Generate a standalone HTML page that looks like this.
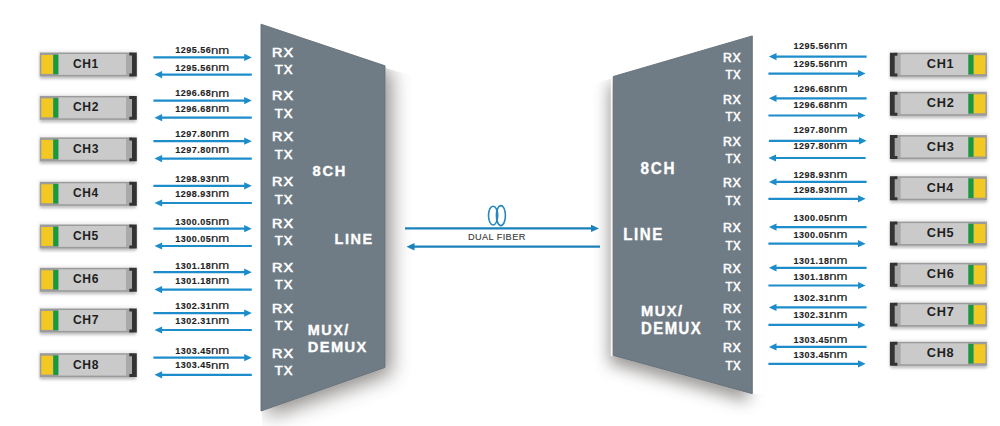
<!DOCTYPE html>
<html><head><meta charset="utf-8"><style>
html,body{margin:0;padding:0;background:#fff;width:1000px;height:426px;overflow:hidden}
svg{display:block}
text{font-family:"Liberation Sans", sans-serif}
</style></head><body>
<svg width="1000" height="426" viewBox="0 0 1000 426">
<defs>
<filter id="sh" x="-40%" y="-40%" width="180%" height="180%"><feGaussianBlur stdDeviation="10"/></filter>
<filter id="sh2" x="-40%" y="-40%" width="180%" height="180%"><feGaussianBlur stdDeviation="8"/></filter>
<filter id="sb" x="-10%" y="-50%" width="120%" height="200%"><feGaussianBlur stdDeviation="1.8"/></filter>
</defs>
<rect width="1000" height="426" fill="#fff"/>

<clipPath id="cl"><polygon points="262,24.5 385,66.2 385.5,68 460,90 460,440 262,440"/></clipPath>
<clipPath id="cr"><polygon points="752,36.5 613.3,77 612.8,78 540,99 540,440 780,440 780,394 752,394"/></clipPath>
<g clip-path="url(#cl)"><polygon points="261,24.2 385,65.8 385,367.5 261,411" transform="translate(6 6)" fill="#4a4540" opacity="0.62" filter="url(#sh)"/></g>
<g clip-path="url(#cr)"><polygon points="613.3,76.5 752.3,35.9 752.3,393.7 613.3,355.4" transform="translate(-4 8)" fill="#4a4540" opacity="0.55" filter="url(#sh2)"/></g>
<line x1="611.6" y1="78" x2="611.6" y2="356" stroke="#fff" stroke-width="1.6" opacity="0.9"/>
<polygon points="261,24.2 385,65.8 385,367.5 261,411" fill="none" stroke="#fff" stroke-width="1.2" opacity="0.35"/>
<polygon points="613.3,76.5 752.3,35.9 752.3,393.7 613.3,355.4" fill="none" stroke="#fff" stroke-width="1.2" opacity="0.35"/>
<polygon points="261,24.2 385,65.8 385,367.5 261,411" fill="#707c85" stroke="#636e77" stroke-width="0.9"/>
<polygon points="613.3,76.5 752.3,35.9 752.3,393.7 613.3,355.4" fill="#707c85" stroke="#636e77" stroke-width="0.9"/>
<text transform="translate(271.92 56.75) scale(1.166 1)" font-size="12.35" font-weight="normal" fill="#fff" letter-spacing="1.00" stroke="#fff" stroke-width="0.6">RX</text>
<text transform="translate(274.71 73.95) scale(1.058 1)" font-size="12.35" font-weight="normal" fill="#fff" letter-spacing="1.00" stroke="#fff" stroke-width="0.6">TX</text>
<text transform="translate(723.09 61.60) scale(1.030 1)" font-size="11.99" font-weight="normal" fill="#fff" letter-spacing="0.60" stroke="#fff" stroke-width="0.55">RX</text>
<text transform="translate(725.44 79.00) scale(0.948 1)" font-size="11.99" font-weight="normal" fill="#fff" letter-spacing="0.60" stroke="#fff" stroke-width="0.55">TX</text>
<text transform="translate(271.92 100.35) scale(1.166 1)" font-size="12.35" font-weight="normal" fill="#fff" letter-spacing="1.00" stroke="#fff" stroke-width="0.6">RX</text>
<text transform="translate(274.71 118.25) scale(1.058 1)" font-size="12.35" font-weight="normal" fill="#fff" letter-spacing="1.00" stroke="#fff" stroke-width="0.6">TX</text>
<text transform="translate(723.09 103.70) scale(1.030 1)" font-size="11.99" font-weight="normal" fill="#fff" letter-spacing="0.60" stroke="#fff" stroke-width="0.55">RX</text>
<text transform="translate(725.44 121.20) scale(0.948 1)" font-size="11.99" font-weight="normal" fill="#fff" letter-spacing="0.60" stroke="#fff" stroke-width="0.55">TX</text>
<text transform="translate(271.92 141.45) scale(1.166 1)" font-size="12.35" font-weight="normal" fill="#fff" letter-spacing="1.00" stroke="#fff" stroke-width="0.6">RX</text>
<text transform="translate(274.71 159.45) scale(1.058 1)" font-size="12.35" font-weight="normal" fill="#fff" letter-spacing="1.00" stroke="#fff" stroke-width="0.6">TX</text>
<text transform="translate(723.09 145.90) scale(1.030 1)" font-size="11.99" font-weight="normal" fill="#fff" letter-spacing="0.60" stroke="#fff" stroke-width="0.55">RX</text>
<text transform="translate(725.44 163.40) scale(0.948 1)" font-size="11.99" font-weight="normal" fill="#fff" letter-spacing="0.60" stroke="#fff" stroke-width="0.55">TX</text>
<text transform="translate(271.92 186.45) scale(1.166 1)" font-size="12.35" font-weight="normal" fill="#fff" letter-spacing="1.00" stroke="#fff" stroke-width="0.6">RX</text>
<text transform="translate(274.71 204.35) scale(1.058 1)" font-size="12.35" font-weight="normal" fill="#fff" letter-spacing="1.00" stroke="#fff" stroke-width="0.6">TX</text>
<text transform="translate(723.09 187.20) scale(1.030 1)" font-size="11.99" font-weight="normal" fill="#fff" letter-spacing="0.60" stroke="#fff" stroke-width="0.55">RX</text>
<text transform="translate(725.44 204.70) scale(0.948 1)" font-size="11.99" font-weight="normal" fill="#fff" letter-spacing="0.60" stroke="#fff" stroke-width="0.55">TX</text>
<text transform="translate(271.92 227.55) scale(1.166 1)" font-size="12.35" font-weight="normal" fill="#fff" letter-spacing="1.00" stroke="#fff" stroke-width="0.6">RX</text>
<text transform="translate(274.71 245.45) scale(1.058 1)" font-size="12.35" font-weight="normal" fill="#fff" letter-spacing="1.00" stroke="#fff" stroke-width="0.6">TX</text>
<text transform="translate(723.09 231.50) scale(1.030 1)" font-size="11.99" font-weight="normal" fill="#fff" letter-spacing="0.60" stroke="#fff" stroke-width="0.55">RX</text>
<text transform="translate(725.44 249.50) scale(0.948 1)" font-size="11.99" font-weight="normal" fill="#fff" letter-spacing="0.60" stroke="#fff" stroke-width="0.55">TX</text>
<text transform="translate(271.92 271.85) scale(1.166 1)" font-size="12.35" font-weight="normal" fill="#fff" letter-spacing="1.00" stroke="#fff" stroke-width="0.6">RX</text>
<text transform="translate(274.71 289.35) scale(1.058 1)" font-size="12.35" font-weight="normal" fill="#fff" letter-spacing="1.00" stroke="#fff" stroke-width="0.6">TX</text>
<text transform="translate(723.09 273.30) scale(1.030 1)" font-size="11.99" font-weight="normal" fill="#fff" letter-spacing="0.60" stroke="#fff" stroke-width="0.55">RX</text>
<text transform="translate(725.44 291.20) scale(0.948 1)" font-size="11.99" font-weight="normal" fill="#fff" letter-spacing="0.60" stroke="#fff" stroke-width="0.55">TX</text>
<text transform="translate(271.92 312.55) scale(1.166 1)" font-size="12.35" font-weight="normal" fill="#fff" letter-spacing="1.00" stroke="#fff" stroke-width="0.6">RX</text>
<text transform="translate(274.71 330.45) scale(1.058 1)" font-size="12.35" font-weight="normal" fill="#fff" letter-spacing="1.00" stroke="#fff" stroke-width="0.6">TX</text>
<text transform="translate(723.09 312.90) scale(1.030 1)" font-size="11.99" font-weight="normal" fill="#fff" letter-spacing="0.60" stroke="#fff" stroke-width="0.55">RX</text>
<text transform="translate(725.44 330.20) scale(0.948 1)" font-size="11.99" font-weight="normal" fill="#fff" letter-spacing="0.60" stroke="#fff" stroke-width="0.55">TX</text>
<text transform="translate(271.92 357.75) scale(1.166 1)" font-size="12.35" font-weight="normal" fill="#fff" letter-spacing="1.00" stroke="#fff" stroke-width="0.6">RX</text>
<text transform="translate(274.71 375.45) scale(1.058 1)" font-size="12.35" font-weight="normal" fill="#fff" letter-spacing="1.00" stroke="#fff" stroke-width="0.6">TX</text>
<text transform="translate(723.09 352.20) scale(1.030 1)" font-size="11.99" font-weight="normal" fill="#fff" letter-spacing="0.60" stroke="#fff" stroke-width="0.55">RX</text>
<text transform="translate(725.44 369.70) scale(0.948 1)" font-size="11.99" font-weight="normal" fill="#fff" letter-spacing="0.60" stroke="#fff" stroke-width="0.55">TX</text>
<text transform="translate(312.43 175.56) scale(0.999 1)" font-size="14.69" font-weight="bold" fill="#fff" letter-spacing="1.80" stroke="#fff" stroke-width="0.35">8CH</text>
<text transform="translate(334.43 243.50) scale(0.941 1)" font-size="15.41" font-weight="bold" fill="#fff" letter-spacing="1.70" stroke="#fff" stroke-width="0.35">LINE</text>
<text transform="translate(307.84 334.90) scale(0.967 1)" font-size="14.91" font-weight="bold" fill="#fff" letter-spacing="1.50" stroke="#fff" stroke-width="0.35">MUX/</text>
<text transform="translate(307.82 351.85) scale(0.955 1)" font-size="15.33" font-weight="bold" fill="#fff" letter-spacing="1.50" stroke="#fff" stroke-width="0.35">DEMUX</text>
<text transform="translate(640.62 173.64) scale(0.954 1)" font-size="15.96" font-weight="bold" fill="#fff" letter-spacing="1.80" stroke="#fff" stroke-width="0.35">8CH</text>
<text transform="translate(623.19 240.00) scale(0.920 1)" font-size="16.42" font-weight="bold" fill="#fff" letter-spacing="1.70" stroke="#fff" stroke-width="0.35">LINE</text>
<text transform="translate(641.12 316.30) scale(0.967 1)" font-size="15.18" font-weight="bold" fill="#fff" letter-spacing="1.50" stroke="#fff" stroke-width="0.35">MUX/</text>
<text transform="translate(641.10 334.25) scale(0.955 1)" font-size="15.62" font-weight="bold" fill="#fff" letter-spacing="1.50" stroke="#fff" stroke-width="0.35">DEMUX</text>
<rect x="38.5" y="50.5" width="99" height="27.9" fill="#000" opacity="0.07" filter="url(#sb)"/><rect x="40" y="55.0" width="96" height="23.9" fill="#000" opacity="0.2" filter="url(#sb)"/><rect x="39.8" y="52.5" width="92.4" height="23.9" fill="#9b9b9b"/><rect x="58.4" y="54.0" width="68" height="20.9" fill="#cacaca"/><rect x="126.3" y="53.9" width="5.8" height="21.099999999999998" fill="#a9a9a9"/><rect x="41.3" y="55.0" width="11.7" height="18.9" fill="#f4c823"/><rect x="53.3" y="54.7" width="5.0" height="19.5" fill="#179a3c"/><path d="M129.3 52.5 H136.8 V76.4 H129.3 V73.4 H132 V55.5 H129.3 Z" fill="#333"/>
<g transform="translate(1026.7 0) scale(-1 1)"><rect x="38.5" y="50.7" width="99" height="27.9" fill="#000" opacity="0.07" filter="url(#sb)"/><rect x="40" y="55.2" width="96" height="23.9" fill="#000" opacity="0.2" filter="url(#sb)"/><rect x="39.8" y="52.7" width="92.4" height="23.9" fill="#9b9b9b"/><rect x="58.4" y="54.2" width="68" height="20.9" fill="#cacaca"/><rect x="126.3" y="54.1" width="5.8" height="21.099999999999998" fill="#a9a9a9"/><rect x="41.3" y="55.2" width="11.7" height="18.9" fill="#f4c823"/><rect x="53.3" y="54.900000000000006" width="5.0" height="19.5" fill="#179a3c"/><path d="M129.3 52.7 H136.8 V76.6 H129.3 V73.6 H132 V55.7 H129.3 Z" fill="#333"/></g>
<text transform="translate(72.91 67.87) scale(0.928 1)" font-size="12.99" font-weight="bold" fill="#1e1e1e" letter-spacing="0.70">CH1</text>
<text transform="translate(926.78 68.48) scale(1.046 1)" font-size="12.15" font-weight="bold" fill="#1e1e1e" letter-spacing="0.70">CH1</text>
<line x1="153.4" y1="57.4" x2="245.20000000000002" y2="57.4" stroke="#1c8ccb" stroke-width="2.2"/><polygon points="251.8,57.4 244.20000000000002,53.8 244.20000000000002,61.0" fill="#1c8ccb"/>
<line x1="161.1" y1="74.6" x2="251.8" y2="74.6" stroke="#1c8ccb" stroke-width="2.2"/><polygon points="154.5,74.6 162.1,71.0 162.1,78.19999999999999" fill="#1c8ccb"/>
<text transform="translate(175.33 53.41) scale(0.981 1)" font-size="9.18" font-weight="bold" fill="#222" letter-spacing="0.50" stroke="#222" stroke-width="0.12">1295.56</text><text transform="translate(211.02 53.50) scale(1.184 1)" font-size="11.15" font-weight="normal" fill="#222" stroke="#222" stroke-width="0.15">nm</text>
<text transform="translate(175.33 71.11) scale(0.981 1)" font-size="9.18" font-weight="bold" fill="#222" letter-spacing="0.50" stroke="#222" stroke-width="0.12">1295.56</text><text transform="translate(211.02 71.20) scale(1.184 1)" font-size="11.15" font-weight="normal" fill="#222" stroke="#222" stroke-width="0.15">nm</text>
<line x1="775.5" y1="56.6" x2="866.6" y2="56.6" stroke="#1c8ccb" stroke-width="2.2"/><polygon points="768.9,56.6 776.5,53.0 776.5,60.2" fill="#1c8ccb"/>
<line x1="768.4" y1="73.6" x2="859.0" y2="73.6" stroke="#1c8ccb" stroke-width="2.2"/><polygon points="865.6,73.6 858.0,70.0 858.0,77.19999999999999" fill="#1c8ccb"/>
<text transform="translate(793.53 49.01) scale(0.981 1)" font-size="9.18" font-weight="bold" fill="#222" letter-spacing="0.50" stroke="#222" stroke-width="0.12">1295.56</text><text transform="translate(829.22 49.10) scale(1.184 1)" font-size="11.15" font-weight="normal" fill="#222" stroke="#222" stroke-width="0.15">nm</text>
<text transform="translate(793.53 66.71) scale(0.981 1)" font-size="9.18" font-weight="bold" fill="#222" letter-spacing="0.50" stroke="#222" stroke-width="0.12">1295.56</text><text transform="translate(829.22 66.80) scale(1.184 1)" font-size="11.15" font-weight="normal" fill="#222" stroke="#222" stroke-width="0.15">nm</text>
<rect x="38.5" y="93.9" width="99" height="27.9" fill="#000" opacity="0.07" filter="url(#sb)"/><rect x="40" y="98.4" width="96" height="23.9" fill="#000" opacity="0.2" filter="url(#sb)"/><rect x="39.8" y="95.9" width="92.4" height="23.9" fill="#9b9b9b"/><rect x="58.4" y="97.4" width="68" height="20.9" fill="#cacaca"/><rect x="126.3" y="97.30000000000001" width="5.8" height="21.099999999999998" fill="#a9a9a9"/><rect x="41.3" y="98.4" width="11.7" height="18.9" fill="#f4c823"/><rect x="53.3" y="98.10000000000001" width="5.0" height="19.5" fill="#179a3c"/><path d="M129.3 95.9 H136.8 V119.80000000000001 H129.3 V116.80000000000001 H132 V98.9 H129.3 Z" fill="#333"/>
<g transform="translate(1026.7 0) scale(-1 1)"><rect x="38.5" y="89.8" width="99" height="27.9" fill="#000" opacity="0.07" filter="url(#sb)"/><rect x="40" y="94.3" width="96" height="23.9" fill="#000" opacity="0.2" filter="url(#sb)"/><rect x="39.8" y="91.8" width="92.4" height="23.9" fill="#9b9b9b"/><rect x="58.4" y="93.3" width="68" height="20.9" fill="#cacaca"/><rect x="126.3" y="93.2" width="5.8" height="21.099999999999998" fill="#a9a9a9"/><rect x="41.3" y="94.3" width="11.7" height="18.9" fill="#f4c823"/><rect x="53.3" y="94.0" width="5.0" height="19.5" fill="#179a3c"/><path d="M129.3 91.8 H136.8 V115.69999999999999 H129.3 V112.69999999999999 H132 V94.8 H129.3 Z" fill="#333"/></g>
<text transform="translate(72.90 111.27) scale(0.934 1)" font-size="12.99" font-weight="bold" fill="#1e1e1e" letter-spacing="0.70">CH2</text>
<text transform="translate(926.78 107.28) scale(1.052 1)" font-size="12.15" font-weight="bold" fill="#1e1e1e" letter-spacing="0.70">CH2</text>
<line x1="153.4" y1="100.6" x2="245.20000000000002" y2="100.6" stroke="#1c8ccb" stroke-width="2.2"/><polygon points="251.8,100.6 244.20000000000002,97.0 244.20000000000002,104.19999999999999" fill="#1c8ccb"/>
<line x1="161.1" y1="117.7" x2="251.8" y2="117.7" stroke="#1c8ccb" stroke-width="2.2"/><polygon points="154.5,117.7 162.1,114.10000000000001 162.1,121.3" fill="#1c8ccb"/>
<text transform="translate(175.33 96.41) scale(0.979 1)" font-size="9.18" font-weight="bold" fill="#222" letter-spacing="0.50" stroke="#222" stroke-width="0.12">1296.68</text><text transform="translate(211.02 96.50) scale(1.184 1)" font-size="11.15" font-weight="normal" fill="#222" stroke="#222" stroke-width="0.15">nm</text>
<text transform="translate(175.33 111.81) scale(0.979 1)" font-size="9.18" font-weight="bold" fill="#222" letter-spacing="0.50" stroke="#222" stroke-width="0.12">1296.68</text><text transform="translate(211.02 111.90) scale(1.184 1)" font-size="11.15" font-weight="normal" fill="#222" stroke="#222" stroke-width="0.15">nm</text>
<line x1="775.5" y1="98.3" x2="866.6" y2="98.3" stroke="#1c8ccb" stroke-width="2.2"/><polygon points="768.9,98.3 776.5,94.7 776.5,101.89999999999999" fill="#1c8ccb"/>
<line x1="768.4" y1="115.5" x2="859.0" y2="115.5" stroke="#1c8ccb" stroke-width="2.2"/><polygon points="865.6,115.5 858.0,111.9 858.0,119.1" fill="#1c8ccb"/>
<text transform="translate(793.53 92.31) scale(0.979 1)" font-size="9.18" font-weight="bold" fill="#222" letter-spacing="0.50" stroke="#222" stroke-width="0.12">1296.68</text><text transform="translate(829.22 92.40) scale(1.184 1)" font-size="11.15" font-weight="normal" fill="#222" stroke="#222" stroke-width="0.15">nm</text>
<text transform="translate(793.53 107.61) scale(0.979 1)" font-size="9.18" font-weight="bold" fill="#222" letter-spacing="0.50" stroke="#222" stroke-width="0.12">1296.68</text><text transform="translate(829.22 107.70) scale(1.184 1)" font-size="11.15" font-weight="normal" fill="#222" stroke="#222" stroke-width="0.15">nm</text>
<rect x="38.5" y="135.4" width="99" height="27.9" fill="#000" opacity="0.07" filter="url(#sb)"/><rect x="40" y="139.9" width="96" height="23.9" fill="#000" opacity="0.2" filter="url(#sb)"/><rect x="39.8" y="137.4" width="92.4" height="23.9" fill="#9b9b9b"/><rect x="58.4" y="138.9" width="68" height="20.9" fill="#cacaca"/><rect x="126.3" y="138.8" width="5.8" height="21.099999999999998" fill="#a9a9a9"/><rect x="41.3" y="139.9" width="11.7" height="18.9" fill="#f4c823"/><rect x="53.3" y="139.6" width="5.0" height="19.5" fill="#179a3c"/><path d="M129.3 137.4 H136.8 V161.3 H129.3 V158.3 H132 V140.4 H129.3 Z" fill="#333"/>
<g transform="translate(1026.7 0) scale(-1 1)"><rect x="38.5" y="133.1" width="99" height="27.9" fill="#000" opacity="0.07" filter="url(#sb)"/><rect x="40" y="137.6" width="96" height="23.9" fill="#000" opacity="0.2" filter="url(#sb)"/><rect x="39.8" y="135.1" width="92.4" height="23.9" fill="#9b9b9b"/><rect x="58.4" y="136.6" width="68" height="20.9" fill="#cacaca"/><rect x="126.3" y="136.5" width="5.8" height="21.099999999999998" fill="#a9a9a9"/><rect x="41.3" y="137.6" width="11.7" height="18.9" fill="#f4c823"/><rect x="53.3" y="137.29999999999998" width="5.0" height="19.5" fill="#179a3c"/><path d="M129.3 135.1 H136.8 V159.0 H129.3 V156.0 H132 V138.1 H129.3 Z" fill="#333"/></g>
<text transform="translate(72.90 152.75) scale(0.934 1)" font-size="12.97" font-weight="bold" fill="#1e1e1e" letter-spacing="0.70">CH3</text>
<text transform="translate(926.78 150.66) scale(1.052 1)" font-size="12.12" font-weight="bold" fill="#1e1e1e" letter-spacing="0.70">CH3</text>
<line x1="153.4" y1="141.2" x2="245.20000000000002" y2="141.2" stroke="#1c8ccb" stroke-width="2.2"/><polygon points="251.8,141.2 244.20000000000002,137.6 244.20000000000002,144.79999999999998" fill="#1c8ccb"/>
<line x1="161.1" y1="158.6" x2="251.8" y2="158.6" stroke="#1c8ccb" stroke-width="2.2"/><polygon points="154.5,158.6 162.1,155.0 162.1,162.2" fill="#1c8ccb"/>
<text transform="translate(175.33 137.11) scale(0.982 1)" font-size="9.18" font-weight="bold" fill="#222" letter-spacing="0.50" stroke="#222" stroke-width="0.12">1297.80</text><text transform="translate(211.02 137.20) scale(1.184 1)" font-size="11.15" font-weight="normal" fill="#222" stroke="#222" stroke-width="0.15">nm</text>
<text transform="translate(175.33 152.81) scale(0.982 1)" font-size="9.18" font-weight="bold" fill="#222" letter-spacing="0.50" stroke="#222" stroke-width="0.12">1297.80</text><text transform="translate(211.02 152.90) scale(1.184 1)" font-size="11.15" font-weight="normal" fill="#222" stroke="#222" stroke-width="0.15">nm</text>
<line x1="768.9" y1="140.8" x2="860.0" y2="140.8" stroke="#1c8ccb" stroke-width="2.2"/><polygon points="866.6,140.8 859.0,137.20000000000002 859.0,144.4" fill="#1c8ccb"/>
<line x1="775.0" y1="158.0" x2="865.6" y2="158.0" stroke="#1c8ccb" stroke-width="2.2"/><polygon points="768.4,158.0 776.0,154.4 776.0,161.6" fill="#1c8ccb"/>
<text transform="translate(793.53 133.31) scale(0.982 1)" font-size="9.18" font-weight="bold" fill="#222" letter-spacing="0.50" stroke="#222" stroke-width="0.12">1297.80</text><text transform="translate(829.22 133.40) scale(1.184 1)" font-size="11.15" font-weight="normal" fill="#222" stroke="#222" stroke-width="0.15">nm</text>
<text transform="translate(793.53 148.81) scale(0.982 1)" font-size="9.18" font-weight="bold" fill="#222" letter-spacing="0.50" stroke="#222" stroke-width="0.12">1297.80</text><text transform="translate(829.22 148.90) scale(1.184 1)" font-size="11.15" font-weight="normal" fill="#222" stroke="#222" stroke-width="0.15">nm</text>
<rect x="38.5" y="179.8" width="99" height="27.9" fill="#000" opacity="0.07" filter="url(#sb)"/><rect x="40" y="184.3" width="96" height="23.9" fill="#000" opacity="0.2" filter="url(#sb)"/><rect x="39.8" y="181.8" width="92.4" height="23.9" fill="#9b9b9b"/><rect x="58.4" y="183.3" width="68" height="20.9" fill="#cacaca"/><rect x="126.3" y="183.20000000000002" width="5.8" height="21.099999999999998" fill="#a9a9a9"/><rect x="41.3" y="184.3" width="11.7" height="18.9" fill="#f4c823"/><rect x="53.3" y="184.0" width="5.0" height="19.5" fill="#179a3c"/><path d="M129.3 181.8 H136.8 V205.70000000000002 H129.3 V202.70000000000002 H132 V184.8 H129.3 Z" fill="#333"/>
<g transform="translate(1026.7 0) scale(-1 1)"><rect x="38.5" y="174.3" width="99" height="27.9" fill="#000" opacity="0.07" filter="url(#sb)"/><rect x="40" y="178.8" width="96" height="23.9" fill="#000" opacity="0.2" filter="url(#sb)"/><rect x="39.8" y="176.3" width="92.4" height="23.9" fill="#9b9b9b"/><rect x="58.4" y="177.8" width="68" height="20.9" fill="#cacaca"/><rect x="126.3" y="177.70000000000002" width="5.8" height="21.099999999999998" fill="#a9a9a9"/><rect x="41.3" y="178.8" width="11.7" height="18.9" fill="#f4c823"/><rect x="53.3" y="178.5" width="5.0" height="19.5" fill="#179a3c"/><path d="M129.3 176.3 H136.8 V200.20000000000002 H129.3 V197.20000000000002 H132 V179.3 H129.3 Z" fill="#333"/></g>
<text transform="translate(72.91 197.17) scale(0.918 1)" font-size="12.99" font-weight="bold" fill="#1e1e1e" letter-spacing="0.70">CH4</text>
<text transform="translate(926.78 192.18) scale(1.034 1)" font-size="12.15" font-weight="bold" fill="#1e1e1e" letter-spacing="0.70">CH4</text>
<line x1="153.4" y1="185.8" x2="245.20000000000002" y2="185.8" stroke="#1c8ccb" stroke-width="2.2"/><polygon points="251.8,185.8 244.20000000000002,182.20000000000002 244.20000000000002,189.4" fill="#1c8ccb"/>
<line x1="161.1" y1="203.0" x2="251.8" y2="203.0" stroke="#1c8ccb" stroke-width="2.2"/><polygon points="154.5,203.0 162.1,199.4 162.1,206.6" fill="#1c8ccb"/>
<text transform="translate(175.33 182.00) scale(0.983 1)" font-size="9.16" font-weight="bold" fill="#222" letter-spacing="0.50" stroke="#222" stroke-width="0.12">1298.93</text><text transform="translate(211.02 182.10) scale(1.184 1)" font-size="11.15" font-weight="normal" fill="#222" stroke="#222" stroke-width="0.15">nm</text>
<text transform="translate(175.33 197.00) scale(0.983 1)" font-size="9.16" font-weight="bold" fill="#222" letter-spacing="0.50" stroke="#222" stroke-width="0.12">1298.93</text><text transform="translate(211.02 197.10) scale(1.184 1)" font-size="11.15" font-weight="normal" fill="#222" stroke="#222" stroke-width="0.15">nm</text>
<line x1="775.5" y1="181.9" x2="866.6" y2="181.9" stroke="#1c8ccb" stroke-width="2.2"/><polygon points="768.9,181.9 776.5,178.3 776.5,185.5" fill="#1c8ccb"/>
<line x1="768.4" y1="198.8" x2="859.0" y2="198.8" stroke="#1c8ccb" stroke-width="2.2"/><polygon points="865.6,198.8 858.0,195.20000000000002 858.0,202.4" fill="#1c8ccb"/>
<text transform="translate(793.53 177.60) scale(0.983 1)" font-size="9.16" font-weight="bold" fill="#222" letter-spacing="0.50" stroke="#222" stroke-width="0.12">1298.93</text><text transform="translate(829.22 177.70) scale(1.184 1)" font-size="11.15" font-weight="normal" fill="#222" stroke="#222" stroke-width="0.15">nm</text>
<text transform="translate(793.53 193.20) scale(0.983 1)" font-size="9.16" font-weight="bold" fill="#222" letter-spacing="0.50" stroke="#222" stroke-width="0.12">1298.93</text><text transform="translate(829.22 193.30) scale(1.184 1)" font-size="11.15" font-weight="normal" fill="#222" stroke="#222" stroke-width="0.15">nm</text>
<rect x="38.5" y="222.5" width="99" height="27.9" fill="#000" opacity="0.07" filter="url(#sb)"/><rect x="40" y="227.0" width="96" height="23.9" fill="#000" opacity="0.2" filter="url(#sb)"/><rect x="39.8" y="224.5" width="92.4" height="23.9" fill="#9b9b9b"/><rect x="58.4" y="226.0" width="68" height="20.9" fill="#cacaca"/><rect x="126.3" y="225.9" width="5.8" height="21.099999999999998" fill="#a9a9a9"/><rect x="41.3" y="227.0" width="11.7" height="18.9" fill="#f4c823"/><rect x="53.3" y="226.7" width="5.0" height="19.5" fill="#179a3c"/><path d="M129.3 224.5 H136.8 V248.4 H129.3 V245.4 H132 V227.5 H129.3 Z" fill="#333"/>
<g transform="translate(1026.7 0) scale(-1 1)"><rect x="38.5" y="219.6" width="99" height="27.9" fill="#000" opacity="0.07" filter="url(#sb)"/><rect x="40" y="224.1" width="96" height="23.9" fill="#000" opacity="0.2" filter="url(#sb)"/><rect x="39.8" y="221.6" width="92.4" height="23.9" fill="#9b9b9b"/><rect x="58.4" y="223.1" width="68" height="20.9" fill="#cacaca"/><rect x="126.3" y="223.0" width="5.8" height="21.099999999999998" fill="#a9a9a9"/><rect x="41.3" y="224.1" width="11.7" height="18.9" fill="#f4c823"/><rect x="53.3" y="223.79999999999998" width="5.0" height="19.5" fill="#179a3c"/><path d="M129.3 221.6 H136.8 V245.5 H129.3 V242.5 H132 V224.6 H129.3 Z" fill="#333"/></g>
<text transform="translate(72.91 239.87) scale(0.928 1)" font-size="12.99" font-weight="bold" fill="#1e1e1e" letter-spacing="0.70">CH5</text>
<text transform="translate(926.78 237.08) scale(1.046 1)" font-size="12.15" font-weight="bold" fill="#1e1e1e" letter-spacing="0.70">CH5</text>
<line x1="153.4" y1="228.7" x2="245.20000000000002" y2="228.7" stroke="#1c8ccb" stroke-width="2.2"/><polygon points="251.8,228.7 244.20000000000002,225.1 244.20000000000002,232.29999999999998" fill="#1c8ccb"/>
<line x1="161.1" y1="246.0" x2="251.8" y2="246.0" stroke="#1c8ccb" stroke-width="2.2"/><polygon points="154.5,246.0 162.1,242.4 162.1,249.6" fill="#1c8ccb"/>
<text transform="translate(175.33 225.00) scale(0.981 1)" font-size="9.16" font-weight="bold" fill="#222" letter-spacing="0.50" stroke="#222" stroke-width="0.12">1300.05</text><text transform="translate(211.02 225.10) scale(1.184 1)" font-size="11.15" font-weight="normal" fill="#222" stroke="#222" stroke-width="0.15">nm</text>
<text transform="translate(175.33 242.30) scale(0.981 1)" font-size="9.16" font-weight="bold" fill="#222" letter-spacing="0.50" stroke="#222" stroke-width="0.12">1300.05</text><text transform="translate(211.02 242.40) scale(1.184 1)" font-size="11.15" font-weight="normal" fill="#222" stroke="#222" stroke-width="0.15">nm</text>
<line x1="775.5" y1="227.1" x2="866.6" y2="227.1" stroke="#1c8ccb" stroke-width="2.2"/><polygon points="768.9,227.1 776.5,223.5 776.5,230.7" fill="#1c8ccb"/>
<line x1="768.4" y1="243.7" x2="859.0" y2="243.7" stroke="#1c8ccb" stroke-width="2.2"/><polygon points="865.6,243.7 858.0,240.1 858.0,247.29999999999998" fill="#1c8ccb"/>
<text transform="translate(793.53 220.70) scale(0.981 1)" font-size="9.16" font-weight="bold" fill="#222" letter-spacing="0.50" stroke="#222" stroke-width="0.12">1300.05</text><text transform="translate(829.22 220.80) scale(1.184 1)" font-size="11.15" font-weight="normal" fill="#222" stroke="#222" stroke-width="0.15">nm</text>
<text transform="translate(793.53 237.50) scale(0.981 1)" font-size="9.16" font-weight="bold" fill="#222" letter-spacing="0.50" stroke="#222" stroke-width="0.12">1300.05</text><text transform="translate(829.22 237.60) scale(1.184 1)" font-size="11.15" font-weight="normal" fill="#222" stroke="#222" stroke-width="0.15">nm</text>
<rect x="38.5" y="265.8" width="99" height="27.9" fill="#000" opacity="0.07" filter="url(#sb)"/><rect x="40" y="270.3" width="96" height="23.9" fill="#000" opacity="0.2" filter="url(#sb)"/><rect x="39.8" y="267.8" width="92.4" height="23.9" fill="#9b9b9b"/><rect x="58.4" y="269.3" width="68" height="20.9" fill="#cacaca"/><rect x="126.3" y="269.2" width="5.8" height="21.099999999999998" fill="#a9a9a9"/><rect x="41.3" y="270.3" width="11.7" height="18.9" fill="#f4c823"/><rect x="53.3" y="270.0" width="5.0" height="19.5" fill="#179a3c"/><path d="M129.3 267.8 H136.8 V291.7 H129.3 V288.7 H132 V270.8 H129.3 Z" fill="#333"/>
<g transform="translate(1026.7 0) scale(-1 1)"><rect x="38.5" y="260.8" width="99" height="27.9" fill="#000" opacity="0.07" filter="url(#sb)"/><rect x="40" y="265.3" width="96" height="23.9" fill="#000" opacity="0.2" filter="url(#sb)"/><rect x="39.8" y="262.8" width="92.4" height="23.9" fill="#9b9b9b"/><rect x="58.4" y="264.3" width="68" height="20.9" fill="#cacaca"/><rect x="126.3" y="264.2" width="5.8" height="21.099999999999998" fill="#a9a9a9"/><rect x="41.3" y="265.3" width="11.7" height="18.9" fill="#f4c823"/><rect x="53.3" y="265.0" width="5.0" height="19.5" fill="#179a3c"/><path d="M129.3 262.8 H136.8 V286.7 H129.3 V283.7 H132 V265.8 H129.3 Z" fill="#333"/></g>
<text transform="translate(72.90 283.17) scale(0.932 1)" font-size="12.99" font-weight="bold" fill="#1e1e1e" letter-spacing="0.70">CH6</text>
<text transform="translate(926.78 278.38) scale(1.050 1)" font-size="12.15" font-weight="bold" fill="#1e1e1e" letter-spacing="0.70">CH6</text>
<line x1="153.4" y1="272.2" x2="245.20000000000002" y2="272.2" stroke="#1c8ccb" stroke-width="2.2"/><polygon points="251.8,272.2 244.20000000000002,268.59999999999997 244.20000000000002,275.8" fill="#1c8ccb"/>
<line x1="161.1" y1="289.6" x2="251.8" y2="289.6" stroke="#1c8ccb" stroke-width="2.2"/><polygon points="154.5,289.6 162.1,286.0 162.1,293.20000000000005" fill="#1c8ccb"/>
<text transform="translate(175.33 268.50) scale(0.981 1)" font-size="9.16" font-weight="bold" fill="#222" letter-spacing="0.50" stroke="#222" stroke-width="0.12">1301.18</text><text transform="translate(211.02 268.60) scale(1.184 1)" font-size="11.15" font-weight="normal" fill="#222" stroke="#222" stroke-width="0.15">nm</text>
<text transform="translate(175.33 283.50) scale(0.981 1)" font-size="9.16" font-weight="bold" fill="#222" letter-spacing="0.50" stroke="#222" stroke-width="0.12">1301.18</text><text transform="translate(211.02 283.60) scale(1.184 1)" font-size="11.15" font-weight="normal" fill="#222" stroke="#222" stroke-width="0.15">nm</text>
<line x1="775.5" y1="267.8" x2="866.6" y2="267.8" stroke="#1c8ccb" stroke-width="2.2"/><polygon points="768.9,267.8 776.5,264.2 776.5,271.40000000000003" fill="#1c8ccb"/>
<line x1="768.4" y1="285.5" x2="859.0" y2="285.5" stroke="#1c8ccb" stroke-width="2.2"/><polygon points="865.6,285.5 858.0,281.9 858.0,289.1" fill="#1c8ccb"/>
<text transform="translate(793.53 264.20) scale(0.981 1)" font-size="9.16" font-weight="bold" fill="#222" letter-spacing="0.50" stroke="#222" stroke-width="0.12">1301.18</text><text transform="translate(829.22 264.30) scale(1.184 1)" font-size="11.15" font-weight="normal" fill="#222" stroke="#222" stroke-width="0.15">nm</text>
<text transform="translate(793.53 279.50) scale(0.981 1)" font-size="9.16" font-weight="bold" fill="#222" letter-spacing="0.50" stroke="#222" stroke-width="0.12">1301.18</text><text transform="translate(829.22 279.60) scale(1.184 1)" font-size="11.15" font-weight="normal" fill="#222" stroke="#222" stroke-width="0.15">nm</text>
<rect x="38.5" y="306.5" width="99" height="27.9" fill="#000" opacity="0.07" filter="url(#sb)"/><rect x="40" y="311.0" width="96" height="23.9" fill="#000" opacity="0.2" filter="url(#sb)"/><rect x="39.8" y="308.5" width="92.4" height="23.9" fill="#9b9b9b"/><rect x="58.4" y="310.0" width="68" height="20.9" fill="#cacaca"/><rect x="126.3" y="309.9" width="5.8" height="21.099999999999998" fill="#a9a9a9"/><rect x="41.3" y="311.0" width="11.7" height="18.9" fill="#f4c823"/><rect x="53.3" y="310.7" width="5.0" height="19.5" fill="#179a3c"/><path d="M129.3 308.5 H136.8 V332.4 H129.3 V329.4 H132 V311.5 H129.3 Z" fill="#333"/>
<g transform="translate(1026.7 0) scale(-1 1)"><rect x="38.5" y="300.7" width="99" height="27.9" fill="#000" opacity="0.07" filter="url(#sb)"/><rect x="40" y="305.2" width="96" height="23.9" fill="#000" opacity="0.2" filter="url(#sb)"/><rect x="39.8" y="302.7" width="92.4" height="23.9" fill="#9b9b9b"/><rect x="58.4" y="304.2" width="68" height="20.9" fill="#cacaca"/><rect x="126.3" y="304.09999999999997" width="5.8" height="21.099999999999998" fill="#a9a9a9"/><rect x="41.3" y="305.2" width="11.7" height="18.9" fill="#f4c823"/><rect x="53.3" y="304.9" width="5.0" height="19.5" fill="#179a3c"/><path d="M129.3 302.7 H136.8 V326.59999999999997 H129.3 V323.59999999999997 H132 V305.7 H129.3 Z" fill="#333"/></g>
<text transform="translate(72.90 323.87) scale(0.936 1)" font-size="12.99" font-weight="bold" fill="#1e1e1e" letter-spacing="0.70">CH7</text>
<text transform="translate(926.77 315.58) scale(1.054 1)" font-size="12.15" font-weight="bold" fill="#1e1e1e" letter-spacing="0.70">CH7</text>
<line x1="153.4" y1="313.1" x2="245.20000000000002" y2="313.1" stroke="#1c8ccb" stroke-width="2.2"/><polygon points="251.8,313.1 244.20000000000002,309.5 244.20000000000002,316.70000000000005" fill="#1c8ccb"/>
<line x1="161.1" y1="330.0" x2="251.8" y2="330.0" stroke="#1c8ccb" stroke-width="2.2"/><polygon points="154.5,330.0 162.1,326.4 162.1,333.6" fill="#1c8ccb"/>
<text transform="translate(175.33 309.00) scale(0.981 1)" font-size="9.16" font-weight="bold" fill="#222" letter-spacing="0.50" stroke="#222" stroke-width="0.12">1302.31</text><text transform="translate(211.02 309.10) scale(1.184 1)" font-size="11.15" font-weight="normal" fill="#222" stroke="#222" stroke-width="0.15">nm</text>
<text transform="translate(175.33 324.00) scale(0.981 1)" font-size="9.16" font-weight="bold" fill="#222" letter-spacing="0.50" stroke="#222" stroke-width="0.12">1302.31</text><text transform="translate(211.02 324.10) scale(1.184 1)" font-size="11.15" font-weight="normal" fill="#222" stroke="#222" stroke-width="0.15">nm</text>
<line x1="775.5" y1="307.4" x2="866.6" y2="307.4" stroke="#1c8ccb" stroke-width="2.2"/><polygon points="768.9,307.4 776.5,303.79999999999995 776.5,311.0" fill="#1c8ccb"/>
<line x1="768.4" y1="324.9" x2="859.0" y2="324.9" stroke="#1c8ccb" stroke-width="2.2"/><polygon points="865.6,324.9 858.0,321.29999999999995 858.0,328.5" fill="#1c8ccb"/>
<text transform="translate(793.53 300.70) scale(0.981 1)" font-size="9.16" font-weight="bold" fill="#222" letter-spacing="0.50" stroke="#222" stroke-width="0.12">1302.31</text><text transform="translate(829.22 300.80) scale(1.184 1)" font-size="11.15" font-weight="normal" fill="#222" stroke="#222" stroke-width="0.15">nm</text>
<text transform="translate(793.53 317.80) scale(0.981 1)" font-size="9.16" font-weight="bold" fill="#222" letter-spacing="0.50" stroke="#222" stroke-width="0.12">1302.31</text><text transform="translate(829.22 317.90) scale(1.184 1)" font-size="11.15" font-weight="normal" fill="#222" stroke="#222" stroke-width="0.15">nm</text>
<rect x="38.5" y="351.2" width="99" height="27.9" fill="#000" opacity="0.07" filter="url(#sb)"/><rect x="40" y="355.7" width="96" height="23.9" fill="#000" opacity="0.2" filter="url(#sb)"/><rect x="39.8" y="353.2" width="92.4" height="23.9" fill="#9b9b9b"/><rect x="58.4" y="354.7" width="68" height="20.9" fill="#cacaca"/><rect x="126.3" y="354.59999999999997" width="5.8" height="21.099999999999998" fill="#a9a9a9"/><rect x="41.3" y="355.7" width="11.7" height="18.9" fill="#f4c823"/><rect x="53.3" y="355.4" width="5.0" height="19.5" fill="#179a3c"/><path d="M129.3 353.2 H136.8 V377.09999999999997 H129.3 V374.09999999999997 H132 V356.2 H129.3 Z" fill="#333"/>
<g transform="translate(1026.7 0) scale(-1 1)"><rect x="38.5" y="339.8" width="99" height="27.9" fill="#000" opacity="0.07" filter="url(#sb)"/><rect x="40" y="344.3" width="96" height="23.9" fill="#000" opacity="0.2" filter="url(#sb)"/><rect x="39.8" y="341.8" width="92.4" height="23.9" fill="#9b9b9b"/><rect x="58.4" y="343.3" width="68" height="20.9" fill="#cacaca"/><rect x="126.3" y="343.2" width="5.8" height="21.099999999999998" fill="#a9a9a9"/><rect x="41.3" y="344.3" width="11.7" height="18.9" fill="#f4c823"/><rect x="53.3" y="344.0" width="5.0" height="19.5" fill="#179a3c"/><path d="M129.3 341.8 H136.8 V365.7 H129.3 V362.7 H132 V344.8 H129.3 Z" fill="#333"/></g>
<text transform="translate(72.90 368.57) scale(0.930 1)" font-size="12.99" font-weight="bold" fill="#1e1e1e" letter-spacing="0.70">CH8</text>
<text transform="translate(926.78 356.98) scale(1.047 1)" font-size="12.15" font-weight="bold" fill="#1e1e1e" letter-spacing="0.70">CH8</text>
<line x1="153.4" y1="357.7" x2="245.20000000000002" y2="357.7" stroke="#1c8ccb" stroke-width="2.2"/><polygon points="251.8,357.7 244.20000000000002,354.09999999999997 244.20000000000002,361.3" fill="#1c8ccb"/>
<line x1="161.1" y1="374.8" x2="251.8" y2="374.8" stroke="#1c8ccb" stroke-width="2.2"/><polygon points="154.5,374.8 162.1,371.2 162.1,378.40000000000003" fill="#1c8ccb"/>
<text transform="translate(175.33 353.60) scale(0.981 1)" font-size="9.16" font-weight="bold" fill="#222" letter-spacing="0.50" stroke="#222" stroke-width="0.12">1303.45</text><text transform="translate(211.02 353.70) scale(1.184 1)" font-size="11.15" font-weight="normal" fill="#222" stroke="#222" stroke-width="0.15">nm</text>
<text transform="translate(175.33 368.40) scale(0.981 1)" font-size="9.16" font-weight="bold" fill="#222" letter-spacing="0.50" stroke="#222" stroke-width="0.12">1303.45</text><text transform="translate(211.02 368.50) scale(1.184 1)" font-size="11.15" font-weight="normal" fill="#222" stroke="#222" stroke-width="0.15">nm</text>
<line x1="775.5" y1="346.9" x2="866.6" y2="346.9" stroke="#1c8ccb" stroke-width="2.2"/><polygon points="768.9,346.9 776.5,343.29999999999995 776.5,350.5" fill="#1c8ccb"/>
<line x1="768.4" y1="363.8" x2="859.0" y2="363.8" stroke="#1c8ccb" stroke-width="2.2"/><polygon points="865.6,363.8 858.0,360.2 858.0,367.40000000000003" fill="#1c8ccb"/>
<text transform="translate(793.53 342.70) scale(0.981 1)" font-size="9.16" font-weight="bold" fill="#222" letter-spacing="0.50" stroke="#222" stroke-width="0.12">1303.45</text><text transform="translate(829.22 342.80) scale(1.184 1)" font-size="11.15" font-weight="normal" fill="#222" stroke="#222" stroke-width="0.15">nm</text>
<text transform="translate(793.53 358.00) scale(0.981 1)" font-size="9.16" font-weight="bold" fill="#222" letter-spacing="0.50" stroke="#222" stroke-width="0.12">1303.45</text><text transform="translate(829.22 358.10) scale(1.184 1)" font-size="11.15" font-weight="normal" fill="#222" stroke="#222" stroke-width="0.15">nm</text>
<line x1="405" y1="228.4" x2="592" y2="228.4" stroke="#1a82ba" stroke-width="2.3"/><polygon points="599,228.4 591,224.70000000000002 591,232.1" fill="#1a82ba"/>
<line x1="413.5" y1="246.7" x2="600" y2="246.7" stroke="#1a82ba" stroke-width="2.3"/><polygon points="406.5,246.7 414.5,243.0 414.5,250.39999999999998" fill="#1a82ba"/>
<ellipse cx="493.1" cy="215.6" rx="4.6" ry="9.4" fill="none" stroke="#2589bd" stroke-width="1.6"/>
<ellipse cx="500.9" cy="215.6" rx="4.5" ry="10" fill="none" stroke="#2589bd" stroke-width="1.6"/>
<text transform="translate(468.05 239.81) scale(0.972 1)" font-size="9.46" font-weight="normal" fill="#383838" letter-spacing="0.40" stroke="#383838" stroke-width="0.12">DUAL FIBER</text>
</svg>
</body></html>
